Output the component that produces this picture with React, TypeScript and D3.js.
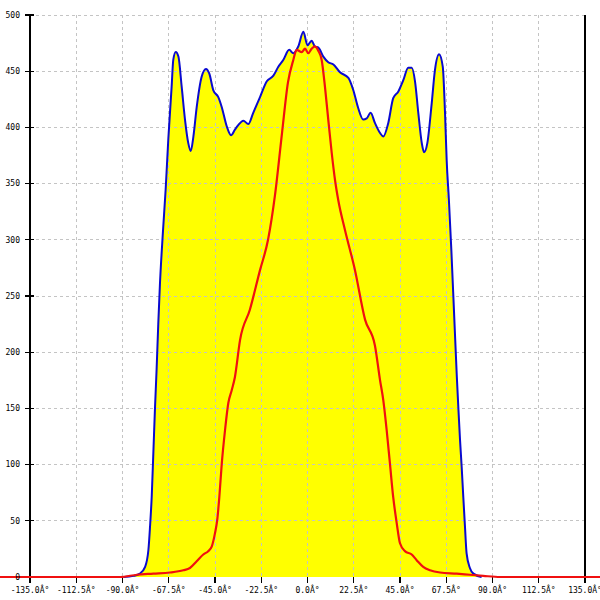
import { useEffect, useRef } from 'react';
import * as d3 from 'd3';

// x ticks (degrees) and y ticks
const xTicks = [-135, -112.5, -90, -67.5, -45, -22.5, 0, 22.5, 45, 67.5, 90, 112.5, 135];
const yTicks = [0, 50, 100, 150, 200, 250, 300, 350, 400, 450, 500];

// blue envelope (filled yellow)
const blueAngles = [
  -89.6, -84.7, -81.5, -79, -77.4, -76.6, -75.8, -75, -74.2, -73.4, -72.6, -71.8, -70.4, -69, -67.7, -66.1, -65.3,
  -64.1, -62.8, -61.2, -59.6, -58, -56.8, -55.5, -53.9, -51.5, -49.4, -47.8, -45.8, -43.4, -41.7,
  -39.3, -37.2, -35.3, -33.7, -31.2, -28.8, -26.4, -23.1, -19.8, -16.6, -14.2, -11.8, -8.9, -6.9,
  -4.5, -2, 0, 2, 3.6, 5.3, 7.7, 10.1, 12.6, 15.8, 19.9, 22.3, 24.7, 27.1, 28.8, 30.7, 32.8, 35.3,
  36.9, 39.3, 41.7, 44.2, 46.6, 49, 50.7, 52.3, 53.9, 55.6, 56.7, 58.3, 60.4, 62, 64, 65.8, 66.9,
  67.7, 68.8, 70, 71.3, 72.6, 73.4, 74.2, 75, 75.8, 76.6, 77.4, 79, 80.7, 84.7,
];
const blueValues = [
  0, 1, 3, 9, 24, 45, 71, 110, 150, 185, 225, 260, 305, 345, 390, 436, 460,
  467, 463, 436, 407, 386, 379, 392, 418, 445, 452, 448, 433, 427, 418,
  401, 393, 398, 402, 406, 403, 413, 427, 441, 446, 454, 460, 469, 466,
  472, 485, 473, 477, 472, 471, 463, 458, 456, 449, 444, 433, 417, 407, 408, 413, 404, 395,
  392, 404, 426, 432, 442, 453, 453, 441, 413, 386, 378, 386, 421, 451, 465, 454, 413,
  371, 335, 290, 235, 180, 150, 122, 98, 71, 45, 21, 8, 3, 0,
];

// red inner curve
const redAngles = [
  -150, -91.2, -83, -75, -66.9, -60.4, -57.2, -53.9, -50.7, -48.3, -46.6, -45, -43.9, -42.9, -41.7,
  -40.1, -38.5, -36.9, -35.3, -32.8, -28, -23.1, -19.2, -15.8, -12.4, -9.5, -6.9, -5.3, -2.8, -1.2,
  0.4, 2, 3.6, 5.3, 6.9, 8.5, 10.1, 11.8, 13.4, 15, 18.2, 23.1, 28, 32.8, 35.3, 36.9, 38.5, 40.1,
  41.7, 43.4, 45, 47.4, 50.7, 53.1, 56.3, 59.6, 64.5, 72.6, 79, 85.5, 93.7, 150,
];
const redValues = [
  0, 0, 2, 3, 4, 6, 8, 14, 20, 23, 27, 39, 51, 71, 101,
  131, 155, 166, 178, 211, 238, 273, 300, 340, 395, 440, 460, 469, 467, 470,
  466, 470, 472, 468, 460, 436, 407, 377, 353, 335, 309, 273, 229, 206, 175, 157, 131, 101,
  71, 48, 30, 23, 20, 15, 9, 6, 4, 3, 2, 1, 0, 0,
];

export default function App() {
  const ref = useRef<SVGSVGElement>(null);

  useEffect(() => {
    if (!ref.current) return;
    const W = 600, H = 600;
    const L = 30, R = 585, T = 15, B = 577;

    const x = d3.scaleLinear().domain([-135, 135]).range([L, R]);
    const y = d3.scaleLinear().domain([0, 500]).range([B, T]);

    const svg = d3.select(ref.current);
    svg.selectAll('*').remove();
    svg.attr('width', W).attr('height', H).attr('viewBox', `0 0 ${W} ${H}`);

    svg.append('rect').attr('width', W).attr('height', H).attr('fill', '#ffffff');

    const blue = blueAngles.map((a, i) => [a, blueValues[i]] as [number, number]);
    const red = redAngles.map((a, i) => [a, redValues[i]] as [number, number]);

    // yellow fill under the blue curve
    const area = d3.area<[number, number]>()
      .x(d => x(d[0]))
      .y0(y(0))
      .y1(d => y(d[1]))
      .curve(d3.curveMonotoneX);
    svg.append('path').attr('d', area(blue) as string).attr('fill', '#ffff00');

    // grid
    const grid = svg.append('g')
      .attr('stroke', '#c4c4c4')
      .attr('stroke-dasharray', '3,3')
      .attr('shape-rendering', 'crispEdges');
    yTicks.filter(t => t > 0).forEach(t => {
      grid.append('line').attr('x1', L).attr('x2', R).attr('y1', y(t)).attr('y2', y(t));
    });
    xTicks.forEach(t => {
      grid.append('line').attr('x1', x(t)).attr('x2', x(t)).attr('y1', T).attr('y2', B);
    });

    // axes
    const ax = svg.append('g').attr('stroke', '#000').attr('stroke-width', 1.2).attr('shape-rendering', 'crispEdges');
    ax.append('line').attr('x1', L).attr('x2', L).attr('y1', T).attr('y2', B + 6);
    ax.append('line').attr('x1', R).attr('x2', R).attr('y1', T).attr('y2', B);
    yTicks.forEach(t => {
      ax.append('line').attr('x1', L - 5).attr('x2', L + 4).attr('y1', y(t)).attr('y2', y(t));
    });
    xTicks.forEach(t => {
      ax.append('line').attr('x1', x(t)).attr('x2', x(t)).attr('y1', B).attr('y2', B + 6);
    });

    const line = d3.line<[number, number]>()
      .x(d => x(d[0]))
      .y(d => y(d[1]))
      .curve(d3.curveMonotoneX);

    svg.append('path').attr('d', line(blue) as string)
      .attr('fill', 'none').attr('stroke', '#0a0ad0').attr('stroke-width', 2);
    svg.append('path').attr('d', line(red) as string)
      .attr('fill', 'none').attr('stroke', '#f01010').attr('stroke-width', 2.2);

    // labels
    const font = '"DejaVu Sans Mono", monospace';
    svg.append('g').selectAll('text').data(yTicks).enter().append('text')
      .attr('x', 20).attr('y', d => y(d)).attr('dy', '0.35em')
      .attr('text-anchor', 'end')
      .style('font-family', font).style('font-size', '8px').style('fill', '#000')
      .text(d => String(d));
    svg.append('g').selectAll('text').data(xTicks).enter().append('text')
      .attr('x', d => x(d)).attr('y', 593)
      .attr('text-anchor', 'middle')
      .style('font-family', font).style('font-size', '8px').style('fill', '#000')
      .text(d => `${d.toFixed(1)}Â°`);
  }, []);

  return (
    <div style={{ position: 'absolute', left: 0, top: 0 }}>
      <svg ref={ref} style={{ display: 'block' }} />
    </div>
  );
}
